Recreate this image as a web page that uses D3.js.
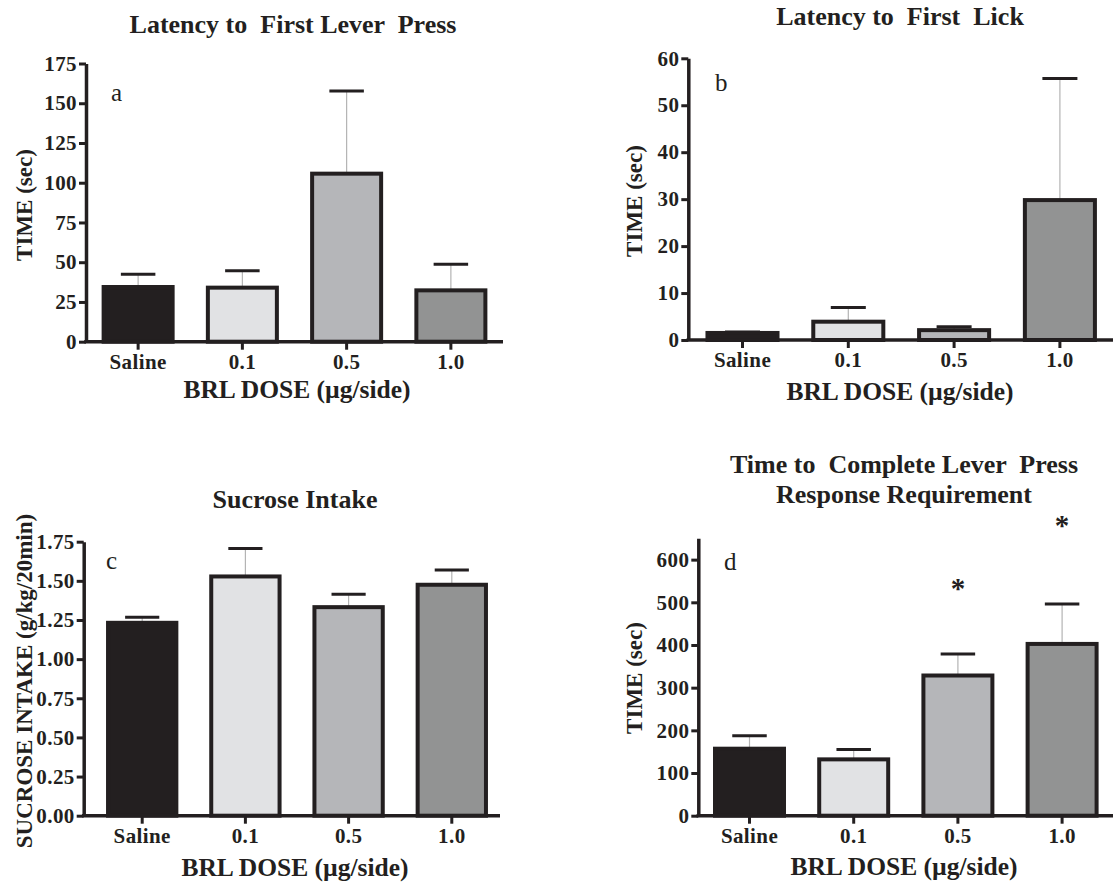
<!DOCTYPE html>
<html>
<head>
<meta charset="utf-8">
<script src="https://d3js.org/d3.v7.min.js"></script>
<style>
    body { margin: 0; background: #fff; }
    svg { display: block; }
    text { font-family: "Liberation Serif", "Times New Roman", serif; fill: #231f20; }
    .title { font-size: 26px; font-weight: bold; white-space: pre; }
    .label { font-size: 25.5px; font-weight: bold; }
    .ylabel { font-size: 23px; font-weight: bold; }
    .letter { font-size: 25px; }
    .star { font-size: 29px; font-weight: bold; }
</style>
</head>
<body>
<svg width="1113" height="884"></svg>
<script>
// doses on the x axis
var doses = ["Saline", "0.1", "0.5", "1.0"];
var fills = ["#231f20", "#e1e2e4", "#b5b6b9", "#929393"];

// a - latency to first lever press (sec)
var leverMean = [34.4, 34, 105.7, 32.3];
var leverSem = [8, 10.7, 52, 16.4];
var leverTicks = [0, 25, 50, 75, 100, 125, 150, 175];

// b - latency to first lick (sec)
var lickMean = [1.5, 3.9, 2.1, 29.8];
var lickSem = [0.2, 3.0, 0.7, 25.9];
var lickTicks = [0, 10, 20, 30, 40, 50, 60];

// c - sucrose intake (g/kg/20min)
var sucroseMean = [1.232, 1.528, 1.332, 1.475];
var sucroseSem = [0.035, 0.179, 0.082, 0.094];
var sucroseTicks = [0, 0.25, 0.5, 0.75, 1.0, 1.25, 1.5, 1.75];

// d - time to complete lever press requirement (sec)
var completeMean = [157, 132, 328.5, 402.5];
var completeSem = [30.4, 23.4, 50.6, 93.6];
var completeStars = [null, null, 544, 690];
var completeTicks = [0, 100, 200, 300, 400, 500, 600];

var svg = d3.select("svg");

var panels = [
    {title: ["Latency to  First Lever  Press"], titleX: 293, titleY: 33,
     letter: "a", letterX: 111, letterY: 101,
     mean: leverMean, sem: leverSem, ticks: leverTicks, max: 175, fmt: d3.format("d"),
     ylabel: "TIME (sec)", ylabelX: 24, ylabelY: 205,
     axisX: 86, top: 63.5, base: 341.7, band: [86, 503], xEnd: 503, labelX: 297, labelY: 398},
    {title: ["Latency to  First  Lick"], titleX: 900, titleY: 25,
     letter: "b", letterX: 715, letterY: 91,
     mean: lickMean, sem: lickSem, ticks: lickTicks, max: 60, fmt: d3.format("d"),
     ylabel: "TIME (sec)", ylabelX: 634, ylabelY: 201,
     axisX: 688.3, top: 58.3, base: 340, band: [689.6, 1112.8], xEnd: 1113, labelX: 900, labelY: 400},
    {title: ["Sucrose Intake"], titleX: 295, titleY: 508,
     letter: "c", letterX: 106, letterY: 569,
     mean: sucroseMean, sem: sucroseSem, ticks: sucroseTicks, max: 1.75, fmt: d3.format(".2f"),
     ylabel: "SUCROSE INTAKE (g/kg/20min)", ylabelX: 24, ylabelY: 681,
     axisX: 83.7, top: 541.7, base: 815.7, band: [90.6, 503.4], xEnd: 500, labelX: 295, labelY: 876},
    {title: ["Time to  Complete Lever  Press", "Response Requirement"], titleX: 904, titleY: 473,
     letter: "d", letterX: 724, letterY: 570,
     mean: completeMean, sem: completeSem, stars: completeStars, ticks: completeTicks, max: 650, fmt: d3.format("d"),
     ylabel: "TIME (sec)", ylabelX: 634, ylabelY: 678,
     axisX: 698.3, top: 538.3, base: 815.7, band: [697.4, 1114.2], xEnd: 1113, labelX: 904, labelY: 875}
];

// serif bold tick text, set straight on the elements
function styleTicks(sel) {
    sel.attr("font-family", null).attr("font-size", null);
    sel.selectAll(".tick text")
        .style("font-family", "'Liberation Serif', 'Times New Roman', serif")
        .style("font-size", "21px")
        .style("font-weight", "bold")
        .style("letter-spacing", "0.4px")
        .attr("fill", "#231f20");
    sel.selectAll(".tick line").attr("stroke", "#231f20").attr("stroke-width", 3);
}

panels.forEach(function(p) {
    var g = svg.append("g");

    var y = d3.scaleLinear().domain([0, p.max]).range([p.base, p.top]);
    var x = d3.scaleBand().domain(doses).range(p.band)
        .paddingInner(0.338).paddingOuter(0.169);
    var bw = x.bandwidth();

    // error bars (drawn under the bars)
    var err = g.append("g");
    doses.forEach(function(d, i) {
        var cx = x(d) + bw / 2;
        var yTop = y(p.mean[i] + p.sem[i]);
        err.append("line")
            .attr("x1", cx).attr("x2", cx)
            .attr("y1", y(p.mean[i])).attr("y2", yTop)
            .attr("stroke", "#b4b4b4").attr("stroke-width", 1.2);
        err.append("line")
            .attr("x1", cx - bw / 4).attr("x2", cx + bw / 4)
            .attr("y1", yTop).attr("y2", yTop)
            .attr("stroke", "#231f20").attr("stroke-width", 3);
    });

    // bars
    g.append("g").selectAll("rect")
        .data(doses)
        .enter().append("rect")
        .attr("x", function(d) { return x(d); })
        .attr("width", bw)
        .attr("y", function(d, i) { return y(p.mean[i]); })
        .attr("height", function(d, i) { return y(0) - y(p.mean[i]); })
        .attr("fill", function(d, i) { return fills[i]; })
        .attr("stroke", "#231f20")
        .attr("stroke-width", 4);

    // y axis
    var yAxis = g.append("g")
        .attr("transform", "translate(" + p.axisX + ",0)")
        .call(d3.axisLeft(y).tickValues(p.ticks).tickFormat(p.fmt)
            .tickSize(7).tickPadding(2).tickSizeOuter(0));
    yAxis.select(".domain").attr("stroke", "#231f20").attr("stroke-width", 3.5);
    styleTicks(yAxis);

    // x axis
    var xAxis = g.append("g")
        .attr("transform", "translate(0," + p.base + ")")
        .call(d3.axisBottom(x).tickSize(8).tickPadding(4).tickSizeOuter(0));
    xAxis.select(".domain").remove();
    styleTicks(xAxis);
    g.append("line")
        .attr("x1", p.axisX - 1.75).attr("x2", p.xEnd)
        .attr("y1", p.base).attr("y2", p.base)
        .attr("stroke", "#231f20").attr("stroke-width", 3.5);

    // significance markers
    if (p.stars) {
        doses.forEach(function(d, i) {
            if (p.stars[i] == null) return;
            g.append("text").attr("class", "star")
                .attr("text-anchor", "middle")
                .attr("x", x(d) + bw / 2)
                .attr("y", y(p.stars[i]) + 14)
                .text("*");
        });
    }

    // titles and labels
    p.title.forEach(function(t, k) {
        g.append("text").attr("class", "title")
            .attr("text-anchor", "middle")
            .attr("x", p.titleX).attr("y", p.titleY + k * 30)
            .text(t);
    });
    g.append("text").attr("class", "letter")
        .attr("x", p.letterX).attr("y", p.letterY)
        .text(p.letter);
    g.append("text").attr("class", "label")
        .attr("text-anchor", "middle")
        .attr("x", p.labelX).attr("y", p.labelY)
        .text("BRL DOSE (\u00b5g/side)");
    g.append("text").attr("class", "ylabel")
        .attr("text-anchor", "middle")
        .attr("transform", "translate(" + (p.ylabelX + 8) + "," + p.ylabelY + ") rotate(-90)")
        .text(p.ylabel);
});
</script>
</body>
</html>
